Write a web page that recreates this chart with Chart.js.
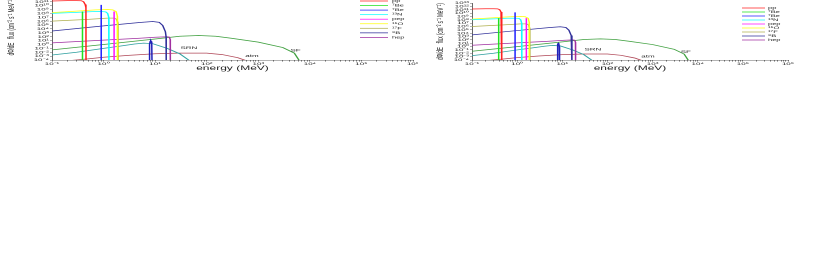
<!DOCTYPE html>
<html>
<head>
<meta charset="utf-8">
<script src="https://cdn.jsdelivr.net/npm/chart.js@4.4.1/dist/chart.umd.min.js"></script>
<style>
  html, body { margin: 0; padding: 0; background: #fff; overflow: hidden; width: 817px; height: 278px; }
  /* the source picture is squashed vertically, so each panel is drawn twice as tall and scaled down */
  .box { position: absolute; transform: scaleY(0.5); transform-origin: 0 0; }
  #leftBox { left: 0; top: -10px; width: 418px; height: 164px; }
  #rightBox { left: 418px; top: 0; width: 399px; height: 144px; }
</style>
</head>
<body>
<div id="leftBox" class="box"><canvas id="leftChart"></canvas></div>
<div id="rightBox" class="box"><canvas id="rightChart"></canvas></div>
<script>
// axis ticks
const xDecades = [0.1, 1, 10, 100, 1e3, 1e4, 1e5, 1e6];
const xMinorSteps = [2, 3, 4, 5, 6, 7, 8, 9];
const yExponents = [-4, -3, -2, -1, 0, 1, 2, 3, 4, 5, 6, 7, 8, 9, 10, 11, 12, 13];

// solar neutrino spectra, energy (MeV) vs flux
const ppE = [0.1, 0.2, 0.3, 0.37, 0.41, 0.44, 0.455, 0.457];
const ppFlux = [1.6e11, 2e11, 2e11, 1.8e11, 1e11, 2e10, 3e9, 1e-5];
const be7aE = [0.39, 0.3901];
const be7aFlux = [1e-5, 3e8];
const be7bE = [0.9, 0.9001];
const be7bFlux = [1e-5, 1.6e10];
const n13E = [0.1, 0.3, 0.6, 0.9, 1.1, 1.2, 1.26, 1.27];
const n13Flux = [1e8, 1.8e8, 2.8e8, 3.2e8, 2.5e8, 1e8, 1e7, 1e-5];
const pepE = [1.6, 1.6001];
const pepFlux = [1e-5, 3e8];
const o15E = [0.1, 0.3, 0.7, 1.2, 1.5, 1.75, 1.85, 1.86];
const o15Flux = [1.6e8, 4e8, 8e8, 1e9, 8e8, 3e8, 2e7, 1e-5];
const f17E = [0.1, 0.5, 1.2, 1.6, 1.8, 1.9, 1.91];
const f17Flux = [1e6, 3e6, 6e6, 6e6, 3e6, 3e5, 1e-5];
const b8E = [0.1, 1, 5, 9, 12, 14, 15.8, 16.3, 16.4];
const b8Flux = [3e3, 6e4, 4.5e5, 8e5, 5e5, 8e4, 2e3, 1e2, 1e-5];
const hepE = [0.1, 1, 5, 10, 17, 18.8, 19.6, 19.7];
const hepFlux = [2.5, 13, 40, 70, 100, 80, 20, 1e-5];

// other sources
const peakE = [7.7, 7.8, 8.0, 8.2, 8.4, 8.6, 8.7];
const peakFlux = [1e-5, 1, 6, 10, 6, 1, 1e-5];
const sfE = [0.1, 1, 10, 30, 70, 150, 300, 1000, 3000, 5000, 6500];
const sfFlux = [0.04, 1, 25, 130, 200, 130, 40, 4, 0.16, 6e-3, 3e-5];
const srnE = [0.1, 0.3, 1, 2, 4, 6, 9, 17, 30, 47];
const srnFlux = [2e-3, 1e-2, 0.1, 0.35, 1.3, 2.2, 1.6, 0.1, 4e-3, 6e-5];
const atmE = [0.1, 0.5, 1, 3, 10, 30, 100, 200, 400, 600];
const atmFlux = [2.5e-5, 2e-4, 5e-4, 1.6e-3, 4e-3, 6e-3, 6e-3, 2.5e-3, 4e-4, 6e-5];

const annotText = ['SRN', 'atm', 'SF'];
const annotE = [31, 560, 4200];
const annotFlux = [0.13, 1.3e-3, 0.03];

const FONT = "'Liberation Sans', Arial, sans-serif";
Chart.defaults.font.family = FONT;
const axisColor = '#666';
const textColor = '#222';

const SUP = { '-': '\u207b', '0': '\u2070', '1': '\u00b9', '2': '\u00b2', '3': '\u00b3', '4': '\u2074',
  '5': '\u2075', '6': '\u2076', '7': '\u2077', '8': '\u2078', '9': '\u2079' };

function pow10Label(v) {
  const e = Math.round(Math.log10(v));
  return '10' + String(e).split('').map(c => SUP[c]).join('');
}

function isDecade(v) {
  const l = Math.log10(v);
  return Math.abs(l - Math.round(l)) < 1e-6;
}

function pts(es, fs) {
  return es.map((e, i) => ({ x: e, y: fs[i] }));
}

function series(label, es, fs, color, inLegend) {
  return {
    label,
    data: pts(es, fs),
    borderColor: color,
    backgroundColor: color,
    borderWidth: 1.5,
    pointRadius: 0,
    tension: 0,
    fill: false,
    inLegend
  };
}

function makeDatasets() {
  return [
    series('pp', ppE, ppFlux, '#ff2020', true),
    series('\u2077Be', be7aE, be7aFlux, '#20e020', true),
    series('\u2077Be', be7bE, be7bFlux, '#2020ff', true),
    series('\u00b9\u00b3N', n13E, n13Flux, '#10ffff', true),
    series('pep', pepE, pepFlux, '#ff10ff', true),
    series('\u00b9\u2075O', o15E, o15Flux, '#ffff10', true),
    series('\u00b9\u2077F', f17E, f17Flux, '#b0b050', true),
    series('\u2078B', b8E, b8Flux, '#30309a', true),
    series('hep', hepE, hepFlux, '#a030a0', true),
    series('peak', peakE, peakFlux, '#2020b8', false),
    series('SF', sfE, sfFlux, '#40a040', false),
    series('SRN', srnE, srnFlux, '#30a0a0', false),
    series('atm', atmE, atmFlux, '#b04858', false)
  ];
}

// legend drawn inside the plot, top right
const insideLegend = {
  id: 'insideLegend',
  afterDatasetsDraw(chart, args, opts) {
    const { ctx, chartArea } = chart;
    ctx.save();
    ctx.font = '7.5px ' + FONT;
    ctx.textBaseline = 'middle';
    ctx.textAlign = 'left';
    let row = 0;
    chart.data.datasets.forEach(ds => {
      if (!ds.inLegend) return;
      const y = chartArea.top + opts.top + row * opts.step;
      ctx.strokeStyle = ds.borderColor;
      ctx.lineWidth = 1.5;
      ctx.beginPath();
      ctx.moveTo(chartArea.right + opts.lineStart, y);
      ctx.lineTo(chartArea.right + opts.lineEnd, y);
      ctx.stroke();
      ctx.fillStyle = textColor;
      ctx.fillText(ds.label, chartArea.right + opts.textX, y);
      row++;
    });
    ctx.restore();
  }
};

const sourceLabels = {
  id: 'sourceLabels',
  afterDatasetsDraw(chart) {
    const { ctx, scales } = chart;
    ctx.save();
    ctx.font = '8px ' + FONT;
    ctx.fillStyle = textColor;
    ctx.textBaseline = 'middle';
    ctx.textAlign = 'left';
    annotText.forEach((t, i) => {
      ctx.fillText(t, scales.x.getPixelForValue(annotE[i]), scales.y.getPixelForValue(annotFlux[i]));
    });
    ctx.restore();
  }
};

function buildScales(o) {
  const xTicks = [];
  xDecades.forEach((d, i) => {
    xTicks.push(d);
    if (i < xDecades.length - 1) xMinorSteps.forEach(s => xTicks.push(d * s));
  });
  return {
    x: {
      type: 'logarithmic',
      min: 0.1,
      max: 1e6,
      afterBuildTicks: s => { s.ticks = xTicks.map(v => ({ value: v })); },
      afterFit: s => { s.height = o.xHeight; s.paddingLeft = 0; s.paddingRight = 0; },
      grid: { drawOnChartArea: false, tickLength: 3, color: axisColor },
      border: { color: axisColor },
      ticks: {
        autoSkip: false, maxRotation: 0, minRotation: 0, padding: 0,
        font: { size: 8 }, color: textColor,
        callback: v => (isDecade(v) ? pow10Label(v) : '')
      },
      title: { display: true, text: 'energy (MeV)', font: { size: 12 }, color: textColor, padding: 0 }
    },
    y: {
      type: 'logarithmic',
      min: 1e-4,
      max: 1e13,
      afterBuildTicks: s => { s.ticks = yExponents.map(e => ({ value: Math.pow(10, e) })); },
      afterFit: s => { s.width = o.yWidth; s.paddingTop = 0; s.paddingBottom = 0; },
      grid: { drawOnChartArea: false, tickLength: 2, color: axisColor },
      border: { color: axisColor },
      ticks: {
        autoSkip: false, padding: 1,
        font: { size: 8 }, color: textColor,
        callback: v => pow10Label(v)
      },
      title: {
        display: true,
        text: 'd\u03a6/dE   flux (cm\u207b\u00b2 s\u207b\u00b9 MeV\u207b\u00b9)',
        font: { size: 9 }, color: textColor,
        padding: { top: o.yTitlePad, bottom: 0 }
      }
    }
  };
}

function drawPanel(canvasId, o) {
  const ctx = document.getElementById(canvasId).getContext('2d');
  return new Chart(ctx, {
    type: 'line',
    data: { datasets: makeDatasets() },
    options: {
      responsive: true,
      maintainAspectRatio: false,
      animation: false,
      layout: { padding: o.padding },
      plugins: {
        legend: { display: false },
        tooltip: { enabled: false },
        insideLegend: o.legend
      },
      scales: buildScales(o)
    },
    plugins: [insideLegend, sourceLabels]
  });
}

drawPanel('leftChart', {
  padding: { left: 0, right: 5, top: 8, bottom: 0 },
  xHeight: 24,
  yWidth: 52,
  yTitlePad: 6,
  legend: { lineStart: -53, lineEnd: -25, textX: -21, top: 14, step: 9.1 }
});

drawPanel('rightChart', {
  padding: { left: 0, right: 29, top: 6, bottom: 0 },
  xHeight: 24,
  yWidth: 54,
  yTitlePad: 17,
  legend: { lineStart: -46, lineEnd: -23, textX: -20, top: 10, step: 8 }
});
</script>
</body>
</html>
